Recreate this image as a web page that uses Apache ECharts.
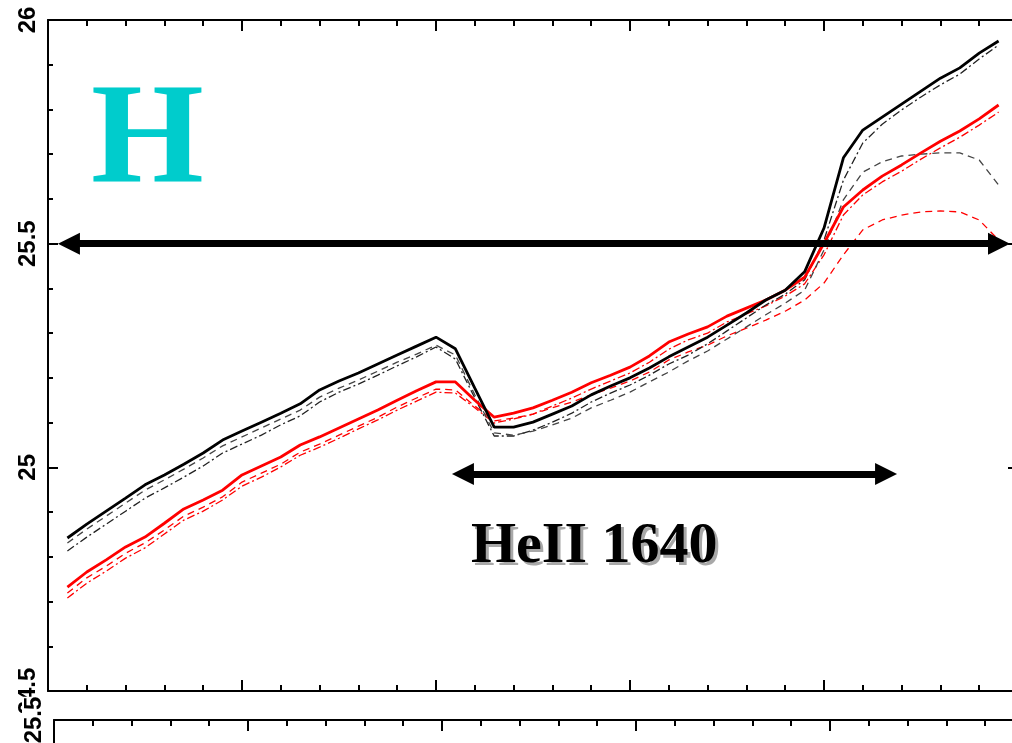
<!DOCTYPE html>
<html>
<head>
<meta charset="utf-8">
<script src="https://cdn.jsdelivr.net/npm/echarts@6/dist/echarts.min.js"></script>
<style>
html,body{margin:0;padding:0;background:#fff;}
#chart{width:1012px;height:743px;}
</style>
</head>
<body>
<div id="chart"></div>
<script>
// ---- data ----
const xs = [0.1,0.2,0.3,0.4,0.5,0.6,0.7,0.8,0.9,1.0,1.1,1.2,1.3,1.4,1.5,1.6,1.7,1.8,1.9,2.0,
            2.1,2.2,2.3,2.4,2.5,2.6,2.7,2.8,2.9,3.0,3.1,3.2,3.3,3.4,3.5,3.6,3.7,3.8,3.9,4.0,
            4.1,4.2,4.3,4.4,4.5,4.6,4.7,4.8,4.9];
const blackSolid = [24.842,24.873,24.902,24.931,24.961,24.983,25.007,25.032,25.061,25.081,
  25.101,25.121,25.142,25.173,25.193,25.211,25.231,25.251,25.271,25.291,
  25.265,25.177,25.090,25.090,25.101,25.119,25.137,25.162,25.182,25.200,
  25.222,25.247,25.269,25.291,25.318,25.345,25.374,25.396,25.437,25.535,
  25.692,25.754,25.783,25.812,25.841,25.870,25.893,25.926,25.953];
const blackDashed = [24.831,24.862,24.891,24.920,24.949,24.972,24.996,25.021,25.048,25.068,
  25.088,25.108,25.128,25.157,25.177,25.195,25.215,25.235,25.253,25.273,
  25.251,25.162,25.077,25.072,25.081,25.095,25.110,25.133,25.150,25.168,
  25.191,25.213,25.238,25.260,25.287,25.314,25.341,25.367,25.396,25.486,
  25.598,25.660,25.683,25.696,25.700,25.703,25.703,25.687,25.631];
const blackDashDot = [24.813,24.844,24.873,24.902,24.931,24.954,24.978,25.003,25.032,25.052,
  25.072,25.095,25.115,25.146,25.168,25.186,25.206,25.227,25.247,25.269,
  25.242,25.155,25.070,25.070,25.083,25.101,25.121,25.146,25.166,25.184,
  25.206,25.231,25.251,25.276,25.305,25.334,25.363,25.387,25.419,25.508,
  25.642,25.725,25.767,25.799,25.828,25.855,25.879,25.913,25.944];
const redSolid = [24.732,24.766,24.793,24.822,24.844,24.875,24.907,24.927,24.949,24.983,
  25.003,25.023,25.050,25.068,25.088,25.108,25.128,25.150,25.171,25.191,
  25.191,25.150,25.112,25.121,25.133,25.150,25.168,25.189,25.206,25.224,
  25.249,25.280,25.298,25.314,25.338,25.356,25.374,25.396,25.425,25.501,
  25.582,25.620,25.651,25.676,25.703,25.729,25.752,25.779,25.810];
const redDashed = [24.719,24.753,24.779,24.808,24.831,24.860,24.891,24.911,24.934,24.967,
  24.987,25.007,25.034,25.052,25.072,25.092,25.112,25.135,25.155,25.175,
  25.173,25.137,25.104,25.110,25.119,25.133,25.146,25.162,25.177,25.193,
  25.213,25.240,25.258,25.273,25.294,25.311,25.329,25.349,25.374,25.412,
  25.475,25.531,25.553,25.564,25.571,25.573,25.571,25.553,25.508];
const redDashDot = [24.708,24.741,24.768,24.797,24.820,24.851,24.882,24.902,24.927,24.958,
  24.978,25.001,25.027,25.045,25.065,25.086,25.106,25.128,25.148,25.168,
  25.166,25.133,25.099,25.108,25.119,25.137,25.155,25.175,25.193,25.211,
  25.235,25.264,25.285,25.300,25.325,25.343,25.361,25.383,25.410,25.475,
  25.564,25.609,25.638,25.662,25.689,25.714,25.738,25.765,25.794];

// axis ranges
const xMin = 0, xMax = 5, xInterval = 1;
const yMin = 24.5, yMax = 26, yInterval = 0.5;
const lowerYMin = 24.5, lowerYMax = 25.5;

// annotations
const upperArrow = {y: 25.5, from: 0.108, to: 4.902};
const lowerArrow = {y: 24.985, from: 2.139, to: 4.320};
const panelLetter = 'H';
const lineLabel = 'HeII 1640';

// ---- chart ----
const pairs = arr => xs.map((x, i) => [x, arr[i]]);
const tickStyle = {color: '#000', width: 2};

function xAxisDef(gridIndex, position, majorLen, minorLen) {
  return {
    type: 'value', gridIndex, position, min: xMin, max: xMax, interval: xInterval,
    axisLine: {show: true, onZero: false, lineStyle: {color: '#000', width: 2}},
    axisTick: {show: true, inside: true, length: majorLen, lineStyle: tickStyle},
    minorTick: {show: true, splitNumber: 5, length: minorLen, lineStyle: tickStyle},
    axisLabel: {show: false}, splitLine: {show: false}, minorSplitLine: {show: false}
  };
}
function yAxisDef(gridIndex, position, min, max, showLabels, labelBg) {
  return {
    type: 'value', gridIndex, position, min, max, interval: yInterval,
    axisLine: {show: true, onZero: false, lineStyle: {color: '#000', width: 2}},
    axisTick: {show: true, inside: true, length: 10, lineStyle: tickStyle},
    minorTick: {show: true, splitNumber: 5, length: 5, lineStyle: tickStyle},
    axisLabel: {
      show: showLabels, rotate: 90, margin: 8, showMinLabel: true, showMaxLabel: true,
      color: '#000', fontFamily: '"Liberation Sans", Arial, sans-serif', fontWeight: 'bold', fontSize: 24,
      backgroundColor: labelBg || 'transparent', padding: labelBg ? [0, 0, 0, 0] : 0,
      formatter: v => String(+v.toFixed(2))
    },
    splitLine: {show: false}, minorSplitLine: {show: false}
  };
}

const thin = 1.3;
const option = {
  animation: false,
  backgroundColor: '#fff',
  grid: [
    {left: 48, top: 20, width: 970, height: 671, outerBoundsMode: 'none', containLabel: false},
    {left: 54, top: 720, width: 970, height: 300, outerBoundsMode: 'none', containLabel: false}
  ],
  xAxis: [
    xAxisDef(0, 'bottom', 11, 6),
    xAxisDef(0, 'top', 11, 6),
    xAxisDef(1, 'top', 11, 6)
  ],
  yAxis: [
    yAxisDef(0, 'left', yMin, yMax, true),
    yAxisDef(0, 'right', yMin, yMax, false),
    Object.assign(yAxisDef(1, 'left', lowerYMin, lowerYMax, true, '#fff'), {z: 3})
  ],
  series: [
    {type: 'line', name: 'red dash-dot', data: pairs(redDashDot), symbol: 'none', z: 2,
     lineStyle: {color: '#ff0000', width: thin, type: [8, 3, 2, 3]}},
    {type: 'line', name: 'red dashed', data: pairs(redDashed), symbol: 'none', z: 2,
     lineStyle: {color: '#ff0000', width: thin, type: [7, 5]}},
    {type: 'line', name: 'black dash-dot', data: pairs(blackDashDot), symbol: 'none', z: 2,
     lineStyle: {color: '#222', width: thin, type: [8, 3, 2, 3]}},
    {type: 'line', name: 'black dashed', data: pairs(blackDashed), symbol: 'none', z: 2,
     lineStyle: {color: '#444', width: thin, type: [7, 5]}},
    {type: 'line', name: 'red solid', data: pairs(redSolid), symbol: 'none', z: 3,
     lineStyle: {color: '#ff0000', width: 2.8}},
    {type: 'line', name: 'black solid', data: pairs(blackSolid), symbol: 'none', z: 4,
     lineStyle: {color: '#000', width: 2.8},
     markLine: {
       silent: true, animation: false,
       symbol: ['triangle', 'triangle'], symbolSize: [22, 22],
       label: {show: false},
       lineStyle: {color: '#000', width: 7, type: 'solid'},
       emphasis: {disabled: true},
       data: [
         [{coord: [upperArrow.from, upperArrow.y]}, {coord: [upperArrow.to, upperArrow.y]}],
         [{coord: [lowerArrow.from, lowerArrow.y]}, {coord: [lowerArrow.to, lowerArrow.y]}]
       ]
     }}
  ],
  graphic: [
    {type: 'text', x: 91, y: 145, z: 10,
     style: {text: panelLetter, fill: '#00CCCC', align: 'left', verticalAlign: 'middle',
             font: 'bold 145px "Liberation Serif", "Times New Roman", serif'}},
    {type: 'text', x: 474, y: 550, z: 10,
     style: {text: lineLabel, fill: '#a8a8a8', align: 'left', verticalAlign: 'middle',
             font: 'bold 58px "Liberation Serif", "Times New Roman", serif'}},
    {type: 'text', x: 471, y: 547, z: 11,
     style: {text: lineLabel, fill: '#000', align: 'left', verticalAlign: 'middle',
             font: 'bold 58px "Liberation Serif", "Times New Roman", serif'}}
  ]
};

const chart = echarts.init(document.getElementById('chart'), null, {renderer: 'canvas'});
chart.setOption(option);
</script>
</body>
</html>
